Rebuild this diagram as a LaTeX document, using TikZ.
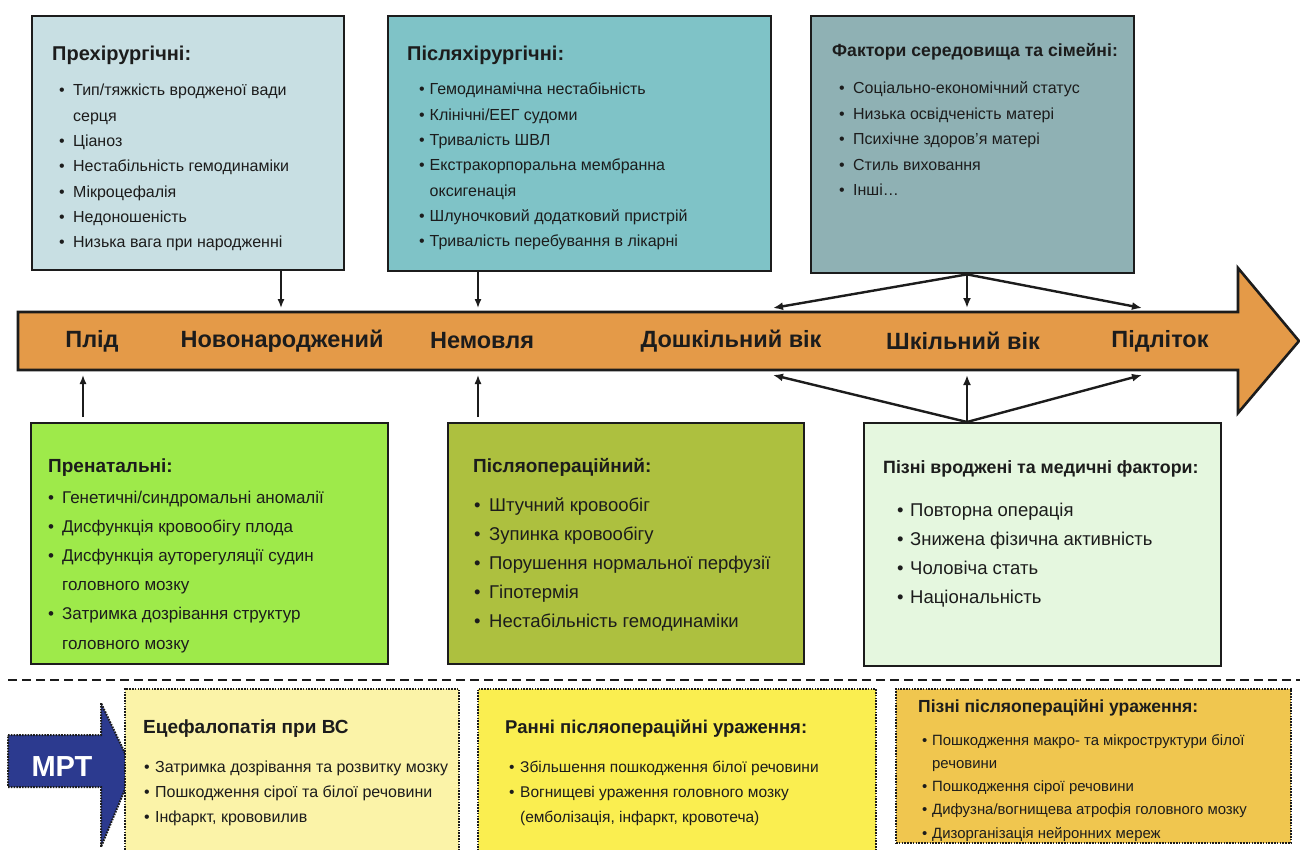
\documentclass[tikz,border=0pt]{standalone}
\usepackage{fontspec}
\setmainfont{Liberation Sans}
\usetikzlibrary{arrows.meta}
\definecolor{cPre}{HTML}{C8DFE3}
\definecolor{cPost}{HTML}{7FC3C7}
\definecolor{cEnv}{HTML}{8FB1B4}
\definecolor{cTime}{HTML}{E49A48}
\definecolor{cPren}{HTML}{9EEA4A}
\definecolor{cOp}{HTML}{ADC03F}
\definecolor{cLate}{HTML}{E5F7DF}
\definecolor{cYa}{HTML}{FBF3A8}
\definecolor{cYb}{HTML}{FAEE50}
\definecolor{cYc}{HTML}{F0C64F}
\definecolor{cMri}{HTML}{2C3A8F}
\definecolor{ink}{HTML}{1C1C1C}
\newlength\bw
\newcommand\bul{\makebox[\bw][l]{\textbullet}}
\newcommand\nob{\hspace*{\bw}}
% #1 prefix #2 x #3 first baseline #4 step #5 size #6 bullet width #7 lines
\newcommand\itemlines[7]{%
  \setlength\bw{#6pt}%
  \foreach \itx [count=\i] in {#7}{
    \node[itm, font=\fontsize{#5}{#5}\selectfont] (#1\i) at (#2,{#3+(\i-1)*#4}) {\itx};}}
\tikzset{
  box/.style={draw=ink, line width=2.4pt, inner sep=0pt, anchor=north west},
  dotbox/.style={draw=ink, line width=2pt, dash pattern=on 1.6pt off 1.2pt, inner sep=0pt, anchor=north west},
  itm/.style={inner sep=0pt, anchor=base west, text=ink},
  ttl/.style={inner sep=0pt, anchor=base west, text=ink, font=\bfseries\fontsize{#1}{#1}\selectfont},
  tl/.style={inner sep=0pt, text=ink, font=\bfseries\fontsize{23.5}{23.5}\selectfont},
  con/.style={draw=ink, line width=1.4pt, -{Latex[length=9pt,width=7pt]}},
  fan/.style={draw=ink, line width=2.4pt, -{Latex[length=10pt,width=8pt]}},
  sep/.style={draw=ink, line width=2.5pt, dash pattern=on 9pt off 5pt}
}
\begin{document}
\begin{tikzpicture}[x=1pt,y=-1pt]
\useasboundingbox (0,0) rectangle (1300,850);
\clip (0,0) rectangle (1300,850);
\fill[white] (0,0) rectangle (1300,850);

% top boxes
\node[box, fill=cPre, minimum width=312pt, minimum height=254pt] (b1) at (31,15) {};
\node[box, fill=cPost, minimum width=383pt, minimum height=255pt] (b2) at (387,15) {};
\node[box, fill=cEnv, minimum width=323pt, minimum height=257pt] (b3) at (810,15) {};

\node[ttl=20] (b1t) at (52,61) {Прехірургічні:};
\itemlines{b1i}{59}{96}{25.3}{16}{14}{\bul Тип/тяжкість вродженої вади, \nob серця, \bul Ціаноз, \bul Нестабільність гемодинаміки, \bul Мікроцефалія, \bul Недоношеність, \bul Низька вага при народженні}

\node[ttl=20] (b2t) at (407,61) {Післяхірургічні:};
\itemlines{b2i}{419}{95}{25.3}{16}{10.5}{\bul Гемодинамічна нестабіьність, \bul Клінічні/ЕЕГ судоми, \bul Тривалість ШВЛ, \bul Екстракорпоральна мембранна, \nob оксигенація, \bul Шлуночковий додатковий пристрій, \bul Тривалість перебування в лікарні}

\node[ttl=17.6] (b3t) at (832,57) {Фактори середовища та сімейні:};
\itemlines{b3i}{839}{94}{25.4}{16}{14}{\bul Соціально-економічний статус, \bul Низька освідченість матері, \bul Психічне здоров’я матері, \bul Стиль виховання, {\bul Інші…}}

% timeline
\draw[fill=cTime, line width=2.6pt, draw=ink] (18,312) -- (1238,312) -- (1238,268) -- (1299,341) -- (1238,413) -- (1238,370) -- (18,370) -- cycle;
\node[tl] (l1) at (92,341) {Плід};
\node[tl] (l2) at (282,341) {Новонароджений};
\node[tl] (l3) at (482,341) {Немовля};
\node[tl] (l4) at (731,341) {Дошкільний вік};
\node[tl] (l5) at (963,341) {Шкільний вік};
\node[tl] (l6) at (1160,341) {Підліток};

\coordinate (tA) at (281,308);
\coordinate (tB) at (478,308);
\coordinate (tC) at (773,308);
\coordinate (tD) at (967,308);
\coordinate (tE) at (1142,308);
\coordinate (tF) at (83,375);
\coordinate (tG) at (478,375);
\coordinate (tH) at (773,375);
\coordinate (tI) at (967,375);
\coordinate (tJ) at (1142,375);

% bottom boxes
\node[box, fill=cPren, minimum width=357pt, minimum height=241pt] (b4) at (30,422) {};
\node[box, fill=cOp, minimum width=356pt, minimum height=241pt] (b5) at (447,422) {};
\node[box, fill=cLate, minimum width=357pt, minimum height=243pt] (b6) at (863,422) {};

\node[ttl=19] (b4t) at (48,472) {Пренатальні:};
\itemlines{b4i}{48}{503}{29.2}{17}{14}{\bul Генетичні/синдромальні аномалії, \bul Дисфункція кровообігу плода, \bul Дисфункція ауторегуляції судин, \nob головного мозку, \bul Затримка дозрівання структур, \nob головного мозку}

\node[ttl=19] (b5t) at (473,472) {Післяопераційний:};
\itemlines{b5i}{474}{511}{29.2}{18.5}{15}{\bul Штучний кровообіг, \bul Зупинка кровообігу, \bul Порушення нормальної перфузії, \bul Гіпотермія, \bul Нестабільність гемодинаміки}

\node[ttl=17.8] (b6t) at (883,473) {Пізні вроджені та медичні фактори:};
\itemlines{b6i}{897}{516}{29}{18.5}{13}{\bul Повторна операція, \bul Знижена фізична активність, \bul Чоловіча стать, \bul Національність}

% connectors
\draw[con] (b1.south -| tA) -- (tA);
\draw[con] (b2.south -| tB) -- (tB);
\draw[fan] (b3.south -| tD) -- (tC);
\draw[fan] (b3.south -| tD) -- (tD);
\draw[fan] (b3.south -| tD) -- (tE);
\draw[con] ([yshift=5pt]b4.north -| tF) -- (tF);
\draw[con] ([yshift=5pt]b5.north -| tG) -- (tG);
\draw[fan] (b6.north -| tI) -- (tH);
\draw[fan] (b6.north -| tI) -- (tI);
\draw[fan] (b6.north -| tI) -- (tJ);

% separator
\coordinate (sL) at (8,680);
\coordinate (sR) at (1300,680);
\draw[sep] (sL) -- (sR);

% MRI row
\draw[fill=cMri, draw=ink, line width=2pt, dash pattern=on 1.6pt off 1.2pt] (8,735) -- (101,735) -- (101,703) -- (133,770) -- (101,847) -- (101,787) -- (8,787) -- cycle;
\node[inner sep=0pt, text=white, font=\bfseries\fontsize{29}{29}\selectfont] (mri) at (62,767) {МРТ};

\node[dotbox, fill=cYa, minimum width=334pt, minimum height=175pt] (m1) at (124,688) {};
\node[dotbox, fill=cYb, minimum width=398pt, minimum height=175pt] (m2) at (477,688) {};
\node[dotbox, fill=cYc, minimum width=395pt, minimum height=154pt] (m3) at (895,688) {};

\node[ttl=19] (m1t) at (143,733) {Ецефалопатія при ВС};
\itemlines{m1i}{144}{772}{25}{16}{11}{\bul Затримка дозрівання та розвитку мозку, \bul Пошкодження сірої та білої речовини, {\bul Інфаркт, крововилив}}

\node[ttl=18.5] (m2t) at (505,733) {Ранні післяопераційні ураження:};
\itemlines{m2i}{509}{772}{25}{15.5}{11}{\bul Збільшення пошкодження білої речовини, \bul Вогнищеві ураження головного мозку, {\nob (емболізація, інфаркт, кровотеча)}}

\node[ttl=17.5] (m3t) at (918,712) {Пізні післяопераційні ураження:};
\itemlines{m3i}{922}{745}{23.3}{14.9}{10}{\bul Пошкодження макро- та мікроструктури білої, \nob речовини, \bul Пошкодження сірої речовини, \bul Дифузна/вогнищева атрофія головного мозку, \bul Дизорганізація нейронних мереж}
\end{tikzpicture}
\end{document}
